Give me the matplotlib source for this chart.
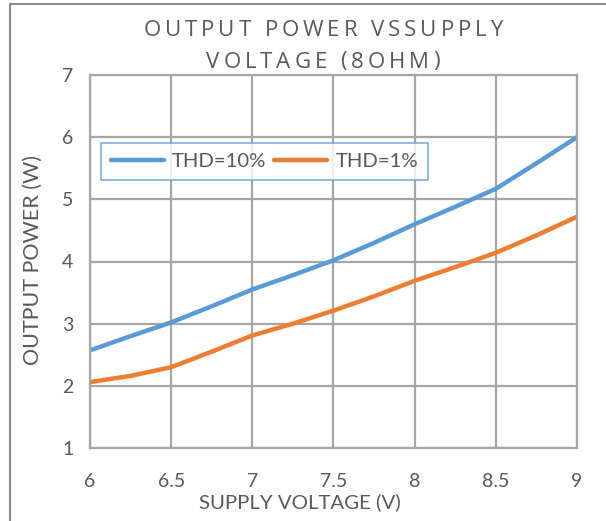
import numpy as np
import matplotlib
matplotlib.use("Agg")
import matplotlib.pyplot as plt
from matplotlib.patches import Rectangle
from matplotlib.font_manager import FontProperties

# values
voltage = [6.0, 6.25, 6.5, 6.75, 7.0, 7.25, 7.5, 7.75, 8.0, 8.25, 8.5, 8.75, 9.0]
thd10 = [2.57, 2.80, 3.02, 3.28, 3.55, 3.78, 4.02, 4.30, 4.60, 4.88, 5.17, 5.58, 6.00]
thd1 = [2.06, 2.16, 2.30, 2.55, 2.81, 3.00, 3.21, 3.44, 3.69, 3.91, 4.14, 4.42, 4.72]
series_names = ["THD=10%", "THD=1%"]
x_ticks = [6, 6.5, 7, 7.5, 8, 8.5, 9]
y_ticks = [1, 2, 3, 4, 5, 6, 7]
title_lines = ["OUTPUT POWER VSSUPPLY", "VOLTAGE (8OHM)"]

txt = "#595959"
grid = "#a6a6a6"
plt.rcParams["font.family"] = ["Lato", "DejaVu Sans"]

fig = plt.figure(figsize=(6.06, 5.21), dpi=100)
ax = fig.add_axes([90 / 606, 1 - 448 / 521, 487 / 606, 373 / 521])

ax.plot(voltage, thd10, color="#5b9bd5", lw=3.2, label=series_names[0], solid_capstyle="round")
ax.plot(voltage, thd1, color="#ed7d31", lw=3.2, label=series_names[1], solid_capstyle="round")

ax.set_xlim(6, 9)
ax.set_ylim(1, 7)
ax.set_xticks(x_ticks)
ax.set_xticklabels([f"{t:g}" for t in x_ticks])
ax.set_yticks(y_ticks)
ax.grid(True, color=grid, lw=1.6)
ax.set_axisbelow(True)
for s in ax.spines.values():
    s.set_color(grid)
    s.set_linewidth(1.6)
ax.tick_params(length=0, labelsize=14, labelcolor=txt)
ax.tick_params(axis="x", pad=18)
ax.tick_params(axis="y", pad=12)

fig.text(300 / 606, 1 - 502 / 521, "SUPPLY VOLTAGE (V)", ha="center", va="center",
         fontsize=14.7, color=txt)
fig.text(33 / 606, 1 - 260 / 521, "OUTPUT POWER (W)", ha="center", va="center",
         rotation=90, fontsize=15.5, color=txt)

leg = ax.legend(loc="upper left", bbox_to_anchor=(11 / 487, 1 - 68 / 373), ncol=2,
                fontsize=14.6, frameon=True, fancybox=False, handlelength=2.6,
                handletextpad=0.4, columnspacing=0.4, borderpad=0.5,
                borderaxespad=0, labelcolor=txt)
leg.get_frame().set_edgecolor("#5b9bd5")
leg.get_frame().set_linewidth(1.2)

# title with wide letter spacing, drawn char by char
fig.canvas.draw()
rend = fig.canvas.get_renderer()
fp = FontProperties(family=["Open Sans", "DejaVu Sans"], size=16)
track = 3.9
for line, yc in zip(title_lines, [30, 62]):
    widths = []
    for ch in line:
        if ch == " ":
            widths.append(6.0)
        else:
            w, h, d = rend.get_text_width_height_descent(ch, fp, ismath=False)
            widths.append(w)
    total = sum(widths) + track * (len(line) - 1)
    x = 323 - total / 2
    for ch, w in zip(line, widths):
        if ch != " ":
            fig.text(x / 606, 1 - yc / 521, ch, fontproperties=fp, color=txt,
                     ha="left", va="center")
        x += w + track

# outer chart border
fig.patches.append(Rectangle((10 / 606, -0.05), 1.0, 1 - 4 / 521 + 0.05,
                             transform=fig.transFigure, fill=False,
                             edgecolor="#8c8c8c", lw=1.5))

fig.savefig("out.png", dpi=100)
